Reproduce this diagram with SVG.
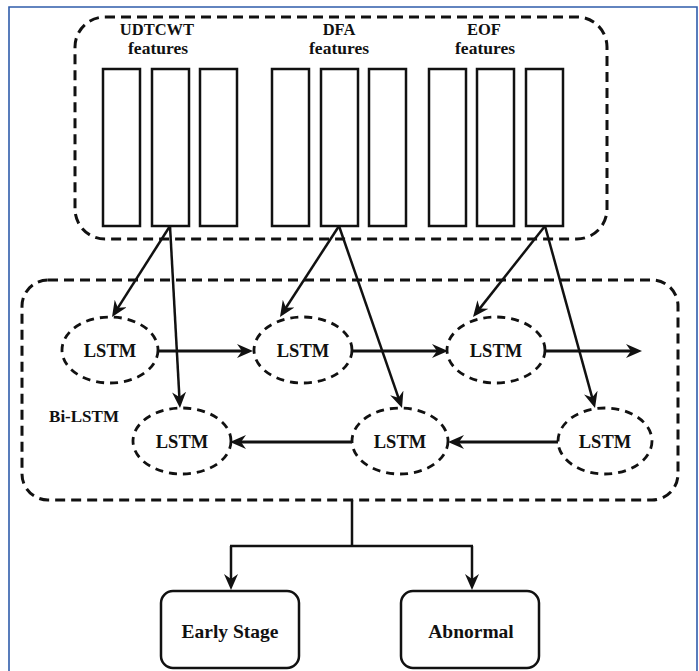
<svg xmlns="http://www.w3.org/2000/svg" width="699" height="671" viewBox="0 0 699 671">
  <style>
    .lbl { font-family: "Liberation Serif", "DejaVu Serif", serif; font-weight: bold; fill: #111; text-anchor: middle; }
    .grp { fill: none; stroke: #111; stroke-width: 3; stroke-dasharray: 10 6; }
    .feat { fill: #fff; stroke: #111; stroke-width: 2.5; }
    .cell { fill: #fff; stroke: #111; stroke-width: 2.8; stroke-dasharray: 8 6; }
    .out { fill: #fff; stroke: #111; stroke-width: 2.5; }
    .wire { fill: none; stroke: #111; stroke-width: 2.5; }
    .flow { fill: none; stroke: #111; stroke-width: 3; marker-end: url(#head); }
    .feed { fill: none; stroke: #111; stroke-width: 2.5; marker-end: url(#head); }
  </style>
  <defs>
    <marker id="head" viewBox="0 0 16 14" refX="11" refY="7" markerWidth="16" markerHeight="14" markerUnits="userSpaceOnUse" orient="auto">
      <path d="M0,0 L16,7 L0,14 L5,7 Z" fill="#111"/>
    </marker>
  </defs>

  <rect width="699" height="671" fill="#fff"/>
  <!-- page frame -->
  <path d="M9,671 V7 H697 V671" fill="none" stroke="#2f5cab" stroke-width="1.6"/>

  <!-- feature extraction block -->
  <g id="features">
    <rect class="grp" x="75" y="17" width="532" height="222" rx="30"/>
    <g id="udtcwt">
      <text class="lbl" x="157" y="35" font-size="16.5">UDTCWT</text>
      <text class="lbl" x="158" y="54" font-size="17.5">features</text>
      <rect class="feat" x="103" y="69" width="37" height="157"/>
      <rect class="feat" x="152" y="69" width="37" height="157"/>
      <rect class="feat" x="200" y="69" width="37" height="157"/>
    </g>
    <g id="dfa">
      <text class="lbl" x="339" y="35" font-size="16.5">DFA</text>
      <text class="lbl" x="339" y="54" font-size="17.5">features</text>
      <rect class="feat" x="272" y="69" width="37" height="157"/>
      <rect class="feat" x="321" y="69" width="37" height="157"/>
      <rect class="feat" x="369" y="69" width="37" height="157"/>
    </g>
    <g id="eof">
      <text class="lbl" x="484" y="35" font-size="16.5">EOF</text>
      <text class="lbl" x="485" y="54" font-size="17.5">features</text>
      <rect class="feat" x="429" y="69" width="37" height="157"/>
      <rect class="feat" x="477" y="69" width="37" height="157"/>
      <rect class="feat" x="526" y="69" width="37" height="157"/>
    </g>
  </g>

  <!-- Bi-LSTM block -->
  <g id="bilstm">
    <rect class="grp" x="22" y="280" width="656" height="220" rx="26"/>
    <text class="lbl" x="84" y="422" font-size="17">Bi-LSTM</text>
  </g>

  <g id="fwd1"><ellipse class="cell" cx="110" cy="350" rx="48" ry="33"/><text class="lbl" x="110" y="357" font-size="18.5">LSTM</text></g>
  <g id="fwd2"><ellipse class="cell" cx="303" cy="350" rx="49" ry="33"/><text class="lbl" x="303" y="357" font-size="18.5">LSTM</text></g>
  <g id="fwd3"><ellipse class="cell" cx="496" cy="350" rx="49" ry="33"/><text class="lbl" x="496" y="357" font-size="18.5">LSTM</text></g>
  <g id="bwd1"><ellipse class="cell" cx="182" cy="441" rx="49" ry="33"/><text class="lbl" x="182" y="448" font-size="18.5">LSTM</text></g>
  <g id="bwd2"><ellipse class="cell" cx="400" cy="441" rx="48" ry="33"/><text class="lbl" x="400" y="448" font-size="18.5">LSTM</text></g>
  <g id="bwd3"><ellipse class="cell" cx="605" cy="441" rx="47" ry="33"/><text class="lbl" x="605" y="448" font-size="18.5">LSTM</text></g>

  <!-- outputs -->
  <g id="early"><rect class="out" x="161" y="591" width="138" height="77" rx="12"/><text class="lbl" x="230" y="638" font-size="19.5">Early Stage</text></g>
  <g id="abnormal"><rect class="out" x="401" y="591" width="138" height="77" rx="12"/><text class="lbl" x="471" y="638" font-size="19.5">Abnormal</text></g>

  <!-- connectors -->
  <g id="connectors">
    <!-- feature vectors into the forward and backward cells -->
    <path class="feed" d="M170,226 L114.7,312.8"/>
    <path class="feed" d="M170,226 L179.7,403"/>
    <path class="feed" d="M339,226 L282.7,312.8"/>
    <path class="feed" d="M339,226 L400.4,403.3"/>
    <path class="feed" d="M545,226 L476.1,313.1"/>
    <path class="feed" d="M545,226 L593.7,403.2"/>
    <!-- forward chain -->
    <path class="flow" d="M158,351 H248"/>
    <path class="flow" d="M352,351 H443"/>
    <path class="flow" d="M545,351 H637"/>
    <!-- backward chain -->
    <path class="flow" d="M352,442 H235"/>
    <path class="flow" d="M558,442 H453"/>
    <!-- classifier split -->
    <path class="wire" d="M352,500 V546 M230,546 H473"/>
    <path class="feed" d="M231,546 V585"/>
    <path class="feed" d="M472,546 V585"/>
  </g>
</svg>
